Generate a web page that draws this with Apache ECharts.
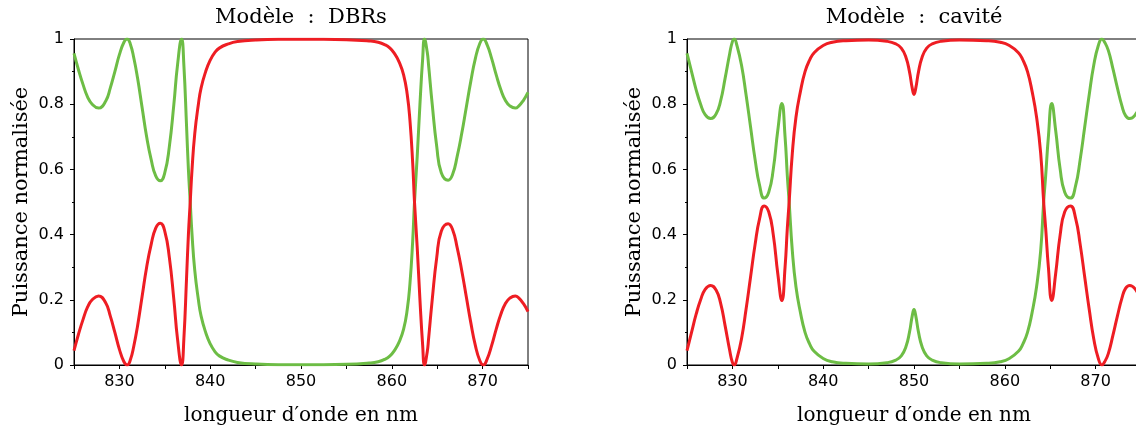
<!DOCTYPE html>
<html>
<head>
<meta charset="utf-8">
<script src="https://cdn.jsdelivr.net/npm/echarts@6/dist/echarts.min.js"></script>
<style>
html,body{margin:0;padding:0;background:#fff;}
#chart{width:1136px;height:430px;}
</style>
</head>
<body>
<div id="chart"></div>
<script>
// ---- Data ----
const titles = ['Modèle  :  DBRs', 'Modèle  :  cavité'];
const xName = 'longueur d′onde en nm';
const yName = 'Puissance normalisée';
const xTicks = [830, 840, 850, 860, 870];
const yTicks = [0, 0.2, 0.4, 0.6, 0.8, 1];

// Panel 1 : DBRs
const dbrWl = [825, 825.5, 826, 826.5, 827, 827.7, 828.5, 829, 829.5, 830, 830.5, 830.85, 831.2, 831.6, 832, 832.5, 833, 833.5, 834, 834.5, 835, 835.5, 836, 836.4, 836.85, 837.1, 837.4, 837.6, 837.8, 838, 838.3, 838.7, 839, 839.5, 840, 840.5, 841, 842, 843, 845, 847.5, 850, 852.5, 855, 857.5, 858.5, 859.2, 859.8, 860.3, 860.8, 861.3, 861.7, 862, 862.3, 862.5, 862.8, 863.1, 863.4, 863.6, 863.9, 864.05, 864.45, 864.95, 865.45, 866.2, 866.7, 867.2, 867.7, 868.2, 868.7, 869.2, 869.7, 870.07, 870.5, 871, 871.5, 872, 872.5, 873, 873.6, 874, 874.5, 875];
const dbrRed = [0.044, 0.095, 0.14, 0.178, 0.2, 0.212, 0.19, 0.15, 0.1, 0.048, 0.01, 0, 0.015, 0.06, 0.12, 0.21, 0.3, 0.37, 0.42, 0.435, 0.41, 0.33, 0.2, 0.08, 0, 0.08, 0.27, 0.4, 0.5, 0.6, 0.71, 0.8, 0.85, 0.9, 0.935, 0.958, 0.972, 0.985, 0.992, 0.997, 0.999, 0.999, 0.999, 0.998, 0.994, 0.99, 0.983, 0.972, 0.955, 0.93, 0.89, 0.83, 0.75, 0.62, 0.5, 0.36, 0.2, 0.06, 0, 0.04, 0.08, 0.2, 0.33, 0.41, 0.433, 0.415, 0.36, 0.29, 0.21, 0.13, 0.06, 0.013, 0, 0.018, 0.06, 0.11, 0.155, 0.188, 0.205, 0.212, 0.205, 0.188, 0.164];
const dbrGreen = [0.956, 0.905, 0.86, 0.822, 0.8, 0.788, 0.81, 0.85, 0.9, 0.952, 0.99, 1, 0.985, 0.94, 0.88, 0.79, 0.7, 0.63, 0.58, 0.565, 0.59, 0.67, 0.8, 0.92, 1, 0.92, 0.73, 0.6, 0.5, 0.4, 0.29, 0.2, 0.15, 0.1, 0.065, 0.042, 0.028, 0.015, 0.008, 0.003, 0.001, 0.001, 0.001, 0.002, 0.006, 0.01, 0.017, 0.028, 0.045, 0.07, 0.11, 0.17, 0.25, 0.38, 0.5, 0.64, 0.8, 0.94, 1, 0.96, 0.92, 0.8, 0.67, 0.59, 0.567, 0.585, 0.64, 0.71, 0.79, 0.87, 0.94, 0.987, 1, 0.982, 0.94, 0.89, 0.845, 0.812, 0.795, 0.788, 0.795, 0.812, 0.836];

// Panel 2 : cavité
const cavWl = [825, 825.5, 826, 826.5, 827, 827.6, 828.2, 828.7, 829.2, 829.7, 830, 830.2, 830.5, 831, 831.5, 832, 832.5, 833, 833.5, 834, 834.5, 835, 835.45, 835.8, 836.05, 836.25, 836.6, 837, 837.5, 838, 838.5, 839, 840, 841, 842.5, 845, 847, 848, 848.6, 849.1, 849.5, 849.8, 850, 850.2, 850.5, 850.9, 851.4, 852, 853, 855, 858, 859.5, 860.5, 861.5, 862, 862.5, 863, 863.5, 863.95, 864.28, 864.5, 864.8, 865.17, 865.6, 866.1, 866.6, 867.23, 867.8, 868.3, 868.8, 869.3, 869.8, 870.3, 870.7, 871, 871.4, 871.9, 872.4, 872.9, 873.3, 873.76, 874.3, 875];
const cavRed = [0.044, 0.1, 0.155, 0.2, 0.232, 0.244, 0.23, 0.19, 0.12, 0.045, 0.008, 0, 0.02, 0.08, 0.17, 0.27, 0.37, 0.45, 0.488, 0.47, 0.4, 0.28, 0.198, 0.3, 0.42, 0.5, 0.65, 0.76, 0.84, 0.9, 0.935, 0.958, 0.98, 0.99, 0.995, 0.997, 0.993, 0.985, 0.972, 0.945, 0.9, 0.85, 0.83, 0.85, 0.9, 0.945, 0.972, 0.985, 0.993, 0.997, 0.995, 0.99, 0.98, 0.958, 0.935, 0.9, 0.84, 0.76, 0.65, 0.5, 0.42, 0.3, 0.198, 0.28, 0.4, 0.47, 0.488, 0.45, 0.37, 0.27, 0.17, 0.08, 0.02, 0, 0.01, 0.035, 0.09, 0.15, 0.205, 0.235, 0.244, 0.235, 0.2];
const cavGreen = [0.956, 0.9, 0.845, 0.8, 0.768, 0.756, 0.77, 0.81, 0.88, 0.955, 0.992, 1, 0.98, 0.92, 0.83, 0.73, 0.63, 0.55, 0.512, 0.53, 0.6, 0.72, 0.802, 0.7, 0.58, 0.5, 0.35, 0.24, 0.16, 0.1, 0.065, 0.042, 0.02, 0.01, 0.005, 0.003, 0.007, 0.015, 0.028, 0.055, 0.1, 0.15, 0.17, 0.15, 0.1, 0.055, 0.028, 0.015, 0.007, 0.003, 0.005, 0.01, 0.02, 0.042, 0.065, 0.1, 0.16, 0.24, 0.35, 0.5, 0.58, 0.7, 0.802, 0.72, 0.6, 0.53, 0.512, 0.55, 0.63, 0.73, 0.83, 0.92, 0.98, 1, 0.99, 0.965, 0.91, 0.85, 0.795, 0.765, 0.756, 0.765, 0.8];

const RED = '#ee1d23';
const GREEN = '#6dbd45';

function pairs(xs, ys) { return xs.map((x, i) => [x, ys[i]]); }

const chart = echarts.init(document.getElementById('chart'), null, {renderer: 'canvas'});

const gridTop = 39, gridH = 326, gridW = 454;
const grids = [
  {left: 74, top: gridTop, width: gridW, height: gridH, outerBoundsMode: 'none', containLabel: false, show: true, borderColor: '#000', borderWidth: 1, backgroundColor: 'transparent'},
  {left: 687, top: gridTop, width: gridW, height: gridH, outerBoundsMode: 'none', containLabel: false, show: true, borderColor: '#000', borderWidth: 1, backgroundColor: 'transparent'}
];

function xAxis(i) {
  return {
    gridIndex: i, type: 'value', min: 825, max: 875, interval: 5,
    axisLine: {show: true, onZero: false, lineStyle: {color: '#000', width: 1}},
    axisTick: {show: true, length: 4, lineStyle: {color: '#000', width: 1}},
    axisLabel: {
      color: '#000', fontSize: 16, fontFamily: 'DejaVu Sans', margin: 9,
      formatter: v => (xTicks.indexOf(v) >= 0 ? String(v) : '')
    },
    splitLine: {show: false},
    name: xName, nameLocation: 'middle', nameGap: 41,
    nameTextStyle: {color: '#000', fontSize: 20, fontFamily: 'DejaVu Serif'}
  };
}
function yAxis(i) {
  return {
    gridIndex: i, type: 'value', min: 0, max: 1, interval: 0.2,
    axisLine: {show: true, onZero: false, lineStyle: {color: '#000', width: 1}},
    axisTick: {show: true, length: 4, lineStyle: {color: '#000', width: 1}},
    minorTick: {show: true, splitNumber: 2, length: 2, lineStyle: {color: '#000', width: 1}},
    axisLabel: {
      color: '#000', fontSize: 16, fontFamily: 'DejaVu Sans', margin: 10,
      formatter: v => {
        const t = yTicks.find(k => Math.abs(k - v) < 1e-9);
        if (t === undefined) return '';
        return (t === 0 || t === 1) ? String(t) : t.toFixed(1);
      }
    },
    splitLine: {show: false},
    minorSplitLine: {show: false},
    name: yName, nameLocation: 'middle', nameGap: 42, nameRotate: 90,
    nameTextStyle: {color: '#000', fontSize: 21, fontFamily: 'DejaVu Serif'}
  };
}

function line(i, xs, ys, color) {
  return {
    type: 'line', xAxisIndex: i, yAxisIndex: i, data: pairs(xs, ys),
    showSymbol: false, smooth: 0.5, clip: true,
    lineStyle: {color: color, width: 3}, itemStyle: {color: color},
    animation: false
  };
}

chart.setOption({
  animation: false,
  backgroundColor: '#fff',
  grid: grids,
  xAxis: [xAxis(0), xAxis(1)],
  yAxis: [yAxis(0), yAxis(1)],
  graphic: [
    {type: 'text', x: 74 + gridW / 2, y: 18, style: {text: titles[0], font: '21px "DejaVu Serif"', fill: '#000', align: 'center', verticalAlign: 'middle'}},
    {type: 'text', x: 687 + gridW / 2, y: 18, style: {text: titles[1], font: '21px "DejaVu Serif"', fill: '#000', align: 'center', verticalAlign: 'middle'}}
  ],
  series: [
    line(0, dbrWl, dbrGreen, GREEN),
    line(0, dbrWl, dbrRed, RED),
    line(1, cavWl, cavGreen, GREEN),
    line(1, cavWl, cavRed, RED)
  ]
});
</script>
</body>
</html>
